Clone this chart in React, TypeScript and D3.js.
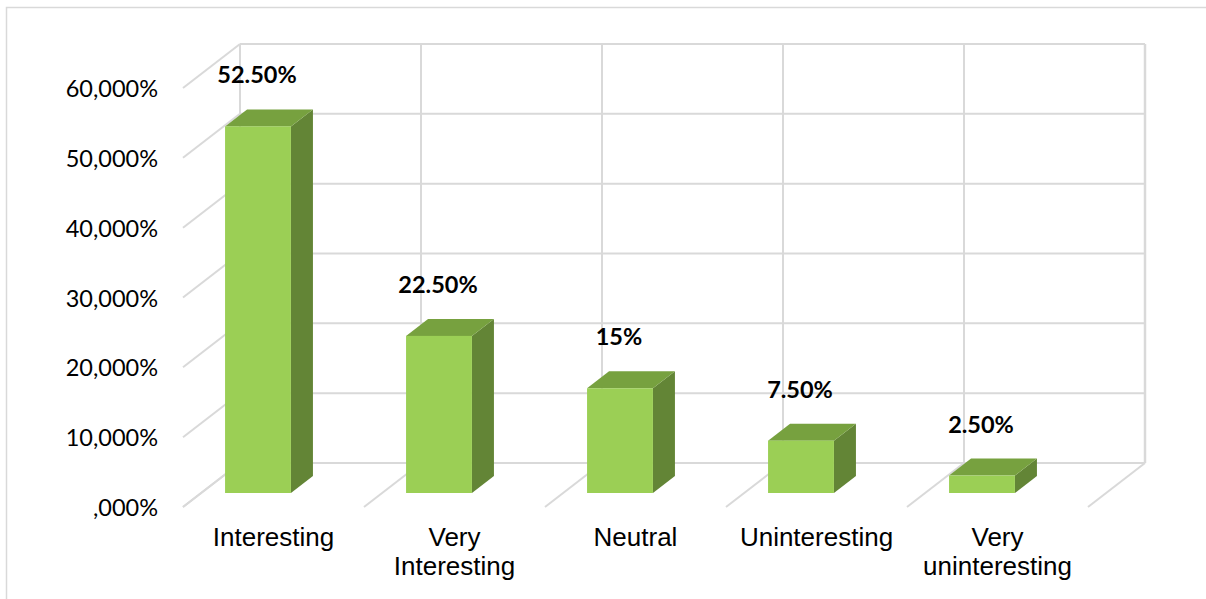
import React from "react";
import * as d3 from "d3";

const categories = ["Interesting", "Very Interesting", "Neutral", "Uninteresting", "Very uninteresting"];
const categoryLines = [["Interesting"], ["Very", "Interesting"], ["Neutral"], ["Uninteresting"], ["Very", "uninteresting"]];
const values = [0.525, 0.225, 0.15, 0.075, 0.025];
const valueLabels = ["52.50%", "22.50%", "15%", "7.50%", "2.50%"];
const tickValues = [0, 0.1, 0.2, 0.3, 0.4, 0.5, 0.6];
const tickLabels = [",000%", "10,000%", "20,000%", "30,000%", "40,000%", "50,000%", "60,000%"];

const W = 1206;
const H = 599;
// back wall
const BACK_L = 240, BACK_R = 1145, BACK_TOP = 44, BACK_BOT = 463;
// floor depth projection
const FDX = -57, FDY = 44;
// bars
const BAR_BASE = 493, BAR_DX = 22, BAR_DY = -17;

const GRID = "#d9d9d9";
const FRONT = "#9BCF55";
const TOP = "#77A13F";
const SIDE = "#638536";

export default function App() {
  const xBack = d3.scaleBand<string>().domain(categories).range([BACK_L, BACK_R]);
  const yBack = d3.scaleLinear().domain([0, 0.6]).range([BACK_BOT, BACK_TOP]);
  const step = xBack.step();
  const xBar = d3
    .scaleBand<string>()
    .domain(categories)
    .range([258 - step / 2, 258 + step * 4.5])
    .paddingInner(0.636)
    .paddingOuter(0.318);
  const yBar = d3.scaleLinear().domain([0, 0.6]).range([BAR_BASE, BAR_BASE - (BACK_BOT - BACK_TOP)]);

  const boundaries = [...categories.map((c) => xBack(c)!), BACK_R];

  return (
    <svg width={W} height={H} style={{ display: "block", position: "absolute", left: 0, top: 0 }}>
      <rect x={0} y={0} width={W} height={H} fill="#fff" />
      <rect x={6.5} y={7.5} width={W + 20} height={H + 20} fill="none" stroke={GRID} strokeWidth={1.5} />

      {/* back wall horizontal grid + left wall diagonals */}
      {tickValues.map((t) => {
        const y = yBack(t);
        return (
          <g key={"g" + t}>
            <line x1={BACK_L} x2={BACK_R} y1={y} y2={y} stroke={GRID} strokeWidth={2} />
            <line x1={BACK_L} y1={y} x2={BACK_L + FDX} y2={y + FDY} stroke={GRID} strokeWidth={2} />
          </g>
        );
      })}
      {/* back wall verticals + floor diagonals */}
      {boundaries.map((bx, i) => (
        <g key={"v" + i}>
          <line x1={bx} x2={bx} y1={BACK_TOP} y2={BACK_BOT} stroke={GRID} strokeWidth={i === boundaries.length - 1 ? 2.5 : 2} />
          <line x1={bx} y1={BACK_BOT} x2={bx + FDX} y2={BACK_BOT + FDY} stroke={GRID} strokeWidth={2} />
        </g>
      ))}

      {/* y tick labels */}
      {tickValues.map((t, i) => (
        <text
          key={"t" + t}
          x={158}
          y={yBack(t) + FDY}
          textAnchor="end"
          dominantBaseline="central"
          fontFamily="Lato, 'Open Sans', sans-serif"
          fontSize={23.5}
          fill="#000"
        >
          {tickLabels[i]}
        </text>
      ))}

      {/* bars */}
      {categories.map((c, i) => {
        const x0 = xBar(c)!;
        const x1 = x0 + xBar.bandwidth();
        const yt = yBar(values[i]);
        const yb = BAR_BASE;
        const topPts = [
          [x0, yt],
          [x0 + BAR_DX, yt + BAR_DY],
          [x1 + BAR_DX, yt + BAR_DY],
          [x1, yt],
        ];
        const sidePts = [
          [x1, yt],
          [x1 + BAR_DX, yt + BAR_DY],
          [x1 + BAR_DX, yb + BAR_DY],
          [x1, yb],
        ];
        return (
          <g key={"b" + c}>
            <polygon points={sidePts.map((p) => p.join(",")).join(" ")} fill={SIDE} />
            <polygon points={topPts.map((p) => p.join(",")).join(" ")} fill={TOP} />
            <rect x={x0} y={yt} width={x1 - x0} height={yb - yt} fill={FRONT} />
            <text
              x={(x0 + x1) / 2 - 1}
              y={yt + BAR_DY - 26}
              textAnchor="middle"
              fontFamily="Lato, 'Open Sans', sans-serif"
              fontWeight="bold"
              fontSize={23.5}
              fill="#000"
            >
              {valueLabels[i]}
            </text>
          </g>
        );
      })}

      {/* category labels */}
      {categories.map((c, i) => {
        const cx = xBack(c)! + step / 2 + FDX;
        return (
          <text
            key={"c" + c}
            textAnchor="middle"
            fontFamily="'Liberation Sans', Arial, sans-serif"
            fontSize={26}
            fill="#000"
          >
            {categoryLines[i].map((line, j) => (
              <tspan key={j} x={cx} y={546 + j * 29}>
                {line}
              </tspan>
            ))}
          </text>
        );
      })}
    </svg>
  );
}
